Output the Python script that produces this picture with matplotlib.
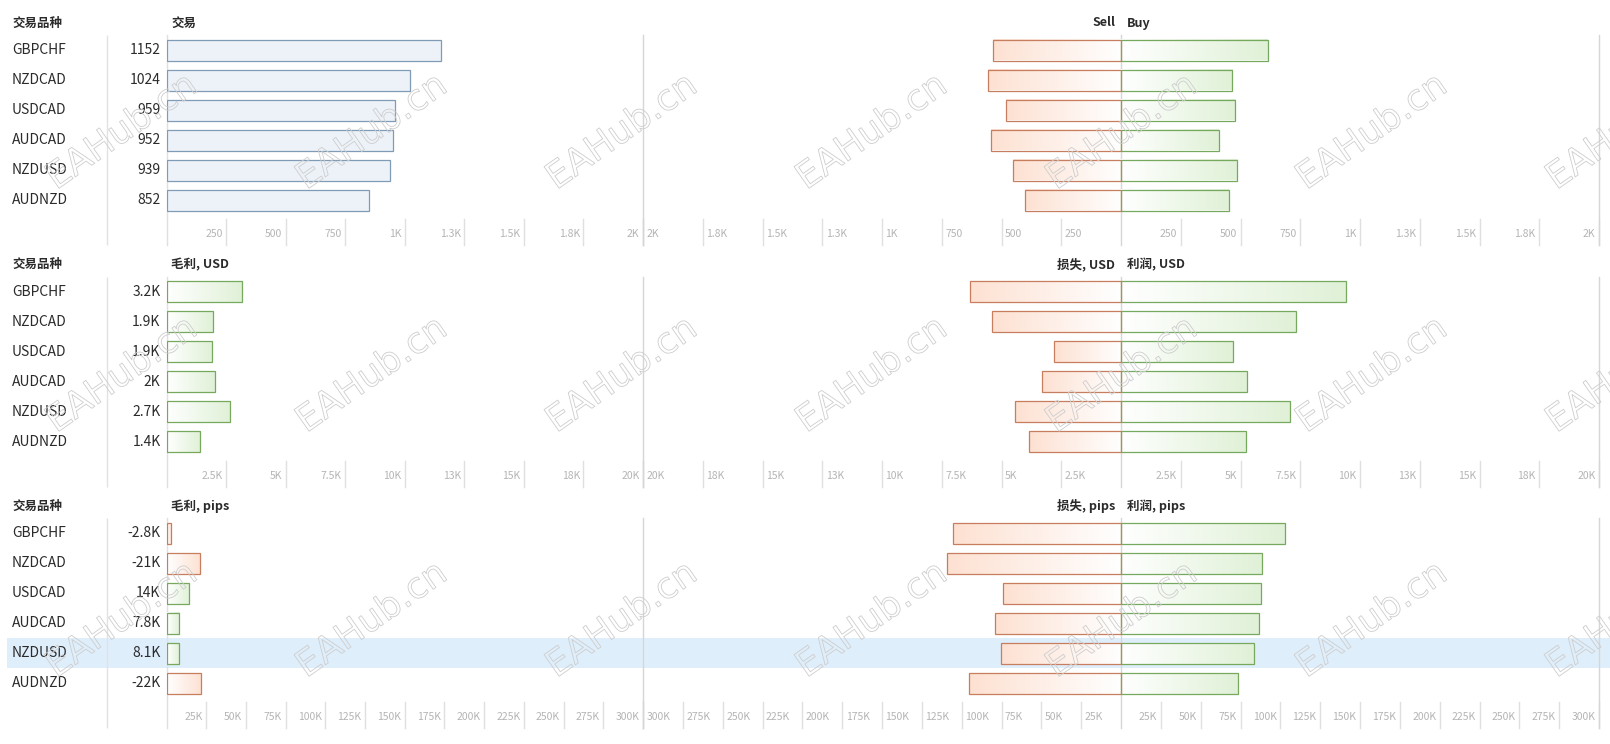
import numpy as np
import matplotlib
matplotlib.use('Agg')
import matplotlib.pyplot as plt
from matplotlib import patheffects

plt.rcParams['font.family'] = ['Noto Sans CJK SC', 'DejaVu Sans']

# data
symbols = ['GBPCHF', 'NZDCAD', 'USDCAD', 'AUDCAD', 'NZDUSD', 'AUDNZD']

trades = [1152, 1024, 959, 952, 939, 852]
trades_lbl = ['1152', '1024', '959', '952', '939', '852']
sell = [537, 558, 480, 544, 452, 402]
buy = [615, 466, 479, 408, 487, 450]

gross_usd = [3160, 1940, 1930, 2040, 2670, 1410]
gross_usd_lbl = ['3.2K', '1.9K', '1.9K', '2K', '2.7K', '1.4K']
loss_usd = [6310, 5390, 2800, 3300, 4440, 3860]
profit_usd = [9410, 7320, 4680, 5280, 7080, 5230]

gross_pips = [-2800, -21000, 14000, 7800, 8100, -22000]
gross_pips_lbl = ['-2.8K', '-21K', '14K', '7.8K', '8.1K', '-22K']
loss_pips = [105500, 109200, 74100, 79000, 75600, 95500]
profit_pips = [102700, 88200, 88100, 86800, 83700, 73500]

ticks_trades = ['250', '500', '750', '1K', '1.3K', '1.5K', '1.8K', '2K']
ticks_usd = ['2.5K', '5K', '7.5K', '10K', '13K', '15K', '18K', '20K']
ticks_pips = ['25K', '50K', '75K', '100K', '125K', '150K', '175K', '200K',
              '225K', '250K', '275K', '300K']

head_sym = '交易品种'
head_left = ['交易', '毛利, USD', '毛利, pips']
head_right = [('Sell', 'Buy'), ('损失, USD', '利润, USD'), ('损失, pips', '利润, pips')]

# colours
BLUE_FILL, BLUE_EDGE = '#edf2f9', '#7f9bb6'
GREEN_FILL, GREEN_EDGE = '#e0f1d7', '#76a85d'
RED_FILL, RED_EDGE = '#fde1d2', '#c77e5e'
LINE = '#d6d6d6'
TICK_TXT = '#b4b4b4'
TXT = '#2b2b2b'

W, H = 1610, 744
X_SEP, X_ZERO, X_MID, X_CTR, X_END = 107, 166.5, 643, 1121, 1599
ROW0, PITCH, ROWH = 50, 241.7, 30

fig = plt.figure(figsize=(W / 100, H / 100), dpi=100)
ov = fig.add_axes([0, 0, 1, 1], zorder=0)
ov.set_xlim(0, W)
ov.set_ylim(H, 0)
ov.axis('off')


def panel_ax(x0, x1, top):
    bottom = top + 7 * ROWH
    ax = fig.add_axes([x0 / W, 1 - bottom / H, (x1 - x0) / W, (bottom - top) / H], zorder=1)
    ax.axis('off')
    return ax


def gradient(ax, bars, face):
    # white at zero, full colour at the outer end of the bar
    rgb = np.array(matplotlib.colors.to_rgb(face))
    t = np.linspace(0, 1, 256)[:, None]
    img = ((1 - t) * np.ones(3) + t * rgb)[None, :, :]
    for p in bars.patches:
        x, w = p.get_x(), p.get_width()
        y, h = p.get_y(), p.get_height()
        ax.imshow(img, extent=(x, x + w, y, y + h), aspect='auto',
                  interpolation='bilinear', zorder=1)


def draw_signed(ax, vals, red_mask):
    ys = np.arange(len(vals))
    vals = np.array(vals, dtype=float)
    red_mask = np.array(red_mask)
    for mask, face, edge in [(~red_mask, GREEN_FILL, GREEN_EDGE), (red_mask, RED_FILL, RED_EDGE)]:
        if not mask.any():
            continue
        b = ax.barh(ys[mask], vals[mask], height=0.7, fill=False, edgecolor=edge, lw=0.9, zorder=2)
        gradient(ax, b, face)


def ticks(ax, step, labels, both):
    vals = step * np.arange(1, len(labels) + 1)
    for v, lab in zip(vals, labels):
        for s in ([1, -1] if both else [1]):
            x = s * v
            ax.plot([x, x], [169 / ROWH, 6.5], color='#e0e0e0', lw=1, zorder=0,
                    clip_on=False)
            ax.annotate(lab, (x, 184 / ROWH), xytext=(-2.5 * s, 0),
                        textcoords='offset points', ha='right' if s > 0 else 'left',
                        va='center', fontsize=7.5, color=TICK_TXT)


panels = [
    (trades, trades_lbl, sell, buy, 250, ticks_trades),
    (gross_usd, gross_usd_lbl, loss_usd, profit_usd, 2500, ticks_usd),
    (gross_pips, gross_pips_lbl, loss_pips, profit_pips, 25000, ticks_pips),
]

for p, (net, net_lbl, neg, pos, step, tl) in enumerate(panels):
    row0 = ROW0 + PITCH * p
    top = row0 - 15
    bottom = row0 + 195
    lim = step * len(tl)

    axl = panel_ax(X_ZERO, X_MID, top)
    axr = panel_ax(X_MID, X_END, top)

    if p == 0:
        axl.barh(np.arange(len(net)), net, height=0.7, color=BLUE_FILL,
                 edgecolor=BLUE_EDGE, lw=0.9, zorder=2)
    else:
        net_a = np.array(net, dtype=float)
        draw_signed(axl, np.abs(net_a), net_a < 0)
    n = len(neg)
    draw_signed(axr, -np.array(neg, dtype=float), np.ones(n, bool))
    draw_signed(axr, np.array(pos, dtype=float), np.zeros(n, bool))

    ticks(axl, step, tl, False)
    ticks(axr, step, tl, True)

    axl.set_xlim(0, lim)
    axr.set_xlim(-lim, lim)
    for ax in (axl, axr):
        ax.set_ylim(6.5, -0.5)
    axl.axvline(0, color='#e0e0e0', lw=1, zorder=0, clip_on=False)
    for x in (-lim, 0, lim):
        axr.axvline(x, color=LINE, lw=1, zorder=0, clip_on=False)

    # labels column and headers
    ov.vlines(X_SEP, top, bottom, color='#e2e2e2', lw=1)
    hkw = dict(fontsize=9, fontweight='bold', color=TXT, va='center')
    ov.text(12, row0 - 27, head_sym, **hkw)
    ov.text(171, row0 - 27, head_left[p], **hkw)
    ov.text(X_CTR - 6, row0 - 27, head_right[p][0], ha='right', **hkw)
    ov.text(X_CTR + 6, row0 - 27, head_right[p][1], ha='left', **hkw)
    for i, (s, lab) in enumerate(zip(symbols, net_lbl)):
        y = row0 + ROWH * i
        ov.text(12, y, s, fontsize=10, color=TXT, va='center')
        ov.text(160.5, y, lab, fontsize=10, color=TXT, va='center', ha='right')

# selected row (NZDUSD in the pips block)
sel = symbols.index('NZDUSD')
yc = ROW0 + PITCH * 2 + ROWH * sel
ov.fill_between([7.3, W], yc - 15, yc + 15, color='#dfeefb', lw=0, zorder=0)

# watermark
for yw in (132, 375, 620):
    for xw in range(122, 1700, 250):
        fig.text(xw / W, 1 - yw / H, 'EAHub.cn', rotation=35, ha='center', va='center',
                 fontsize=26, family='DejaVu Sans', color=(1, 1, 1, 0), zorder=10,
                 path_effects=[patheffects.Stroke(linewidth=0.6, foreground='#cdcdcd')])

fig.savefig('out.png', dpi=100)
